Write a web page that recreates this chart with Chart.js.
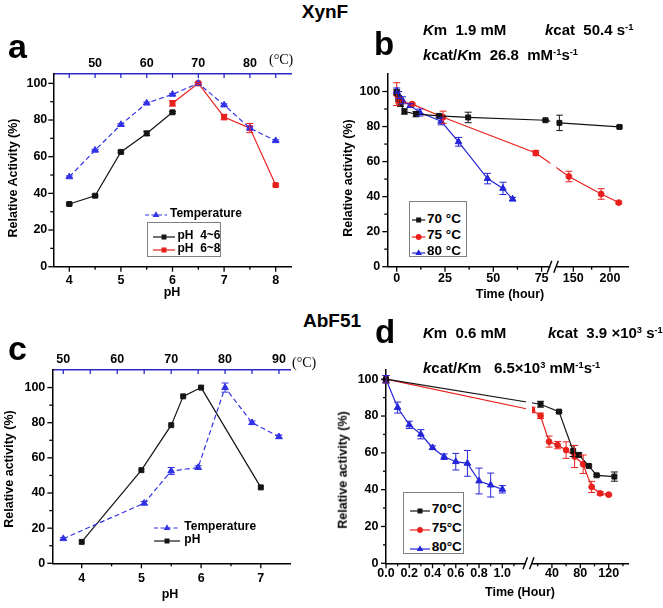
<!DOCTYPE html>
<html><head><meta charset="utf-8">
<script src="https://cdn.jsdelivr.net/npm/chart.js@4.4.1/dist/chart.umd.min.js"></script>
<style>
html,body{margin:0;padding:0;background:#fff}
body{position:relative;width:663px;height:608px;overflow:hidden;font-family:"Liberation Sans",Arial,sans-serif;font-weight:bold;color:#000}
canvas{position:absolute}
.t{position:absolute;white-space:nowrap;line-height:1}
.rot{position:absolute;white-space:nowrap;line-height:1;transform:translate(-50%,-50%) rotate(-90deg)}
sup{font-size:0.62em;vertical-align:0.5em;line-height:0}
.box{position:absolute;border:1px solid #808080;background:#fff;box-sizing:border-box}
</style></head><body>
<canvas id="cA" width="300" height="260" style="left:0px;top:50px"></canvas>
<canvas id="cB" width="300" height="260" style="left:335px;top:50px"></canvas>
<canvas id="cC" width="300" height="260" style="left:0px;top:345px"></canvas>
<canvas id="cD" width="300" height="260" style="left:335px;top:345px"></canvas>
<script>
// ---------------- DATA ----------------
// Panel a (XynF): pH and temperature profiles
const aTempC   = [45, 50, 55, 60, 65, 70, 75, 80, 85];
const aTempAct = [49, 63.5, 77.5, 89.2, 94, 100, 88.2, 75.6, 68.7];
const aTempErr = [0.5, 0.5, 0.5, 0.6, 0.5, 0.5, 0.6, 0.8, 0.5];
const aPhLow    = [4, 4.5, 5, 5.5, 6];
const aPhLowAct = [34.2, 38.7, 62.6, 72.7, 84.2];
const aPhLowErr = [0.5, 0.5, 0.6, 1.2, 0.5];
const aPhHigh    = [6, 6.5, 7, 7.5, 8];
const aPhHighAct = [89.1, 100, 81.6, 75.6, 44.5];
const aPhHighErr = [1.5, 0.5, 1.5, 2.5, 0.6];
const aPhTicks = [4, 5, 6, 7, 8];
const aTempTicks = [50, 60, 70, 80];
const aActTicks = [0, 20, 40, 60, 80, 100];

// Panel b (XynF): thermostability, time in hours
const b70T = [0, 1, 2, 4, 10, 22, 37, 77, 131, 213];
const b70A = [99.5, 96, 93, 88.6, 87.1, 86.1, 85.2, 83.6, 82.1, 79.8];
const b70E = [1.5, 1.5, 1.5, 1.5, 1.5, 1, 3, 0.6, 4.4, 0.6];
const b75T = [0, 1, 2, 8, 24, 72, 144, 188, 212];
const b75A = [98.5, 95, 94, 92.8, 85.3, 64.9, 51.5, 41.5, 36.6];
const b75E = [6.5, 1.5, 1, 0.6, 3.5, 1.5, 3, 3, 0.8];
const b80T = [0, 1, 3, 7, 12, 23, 32, 47, 55, 60];
const b80A = [100.5, 98, 95, 92, 88, 83, 71.3, 50.3, 44.7, 38.6];
const b80E = [1.5, 2, 2, 1, 2, 2, 2.5, 3, 3.5, 1];
const bTimeTicks = [0, 25, 50, 75, 150, 200];
const bActTicks = [0, 20, 40, 60, 80, 100];

// Panel c (AbF51): pH and temperature profiles
const cTempC   = [50, 65, 70, 75, 80, 85, 90];
const cTempAct = [14, 34.2, 52.5, 54.5, 100, 80, 72];
const cTempErr = [0.6, 1, 2, 1, 2.6, 1, 1];
const cPh    = [4, 5, 5.5, 5.7, 6, 7];
const cPhAct = [12.2, 53, 78.6, 95, 100, 43.2];
const cPhTicks = [4, 5, 6, 7];
const cTempTicks = [50, 60, 70, 80, 90];
const cActTicks = [0, 20, 40, 60, 80, 100];

// Panel d (AbF51): thermostability, time in hours
const d70T = [0, 24, 50, 70, 78, 92, 103, 128];
const d70A = [100, 86.4, 82.4, 61, 58.9, 52.9, 47.8, 47.1];
const d70E = [2, 1.6, 0.5, 3, 1, 0.6, 0.6, 2.5];
const d75T = [0, 12, 24, 36, 48, 60, 72, 84, 96, 108, 120];
const d75A = [100, 83.3, 80.1, 66.1, 64.2, 61.5, 58, 53.8, 41.5, 38, 37.3];
const d75E = [2, 1.5, 1.5, 3, 2, 4.5, 6, 5, 3, 1, 0.6];
const d80T = [0, 0.1, 0.2, 0.3, 0.4, 0.5, 0.6, 0.7, 0.8, 0.9, 1.0];
const d80A = [100, 84.6, 75.2, 70.1, 62.8, 57.9, 55.2, 54.3, 44.7, 42.5, 40.2];
const d80E = [2, 3, 2, 2.5, 1, 1.5, 4.5, 7, 7, 6.5, 2];
const dTimeTicks = [0, 0.2, 0.4, 0.6, 0.8, 1.0, 40, 80, 120];
const dTimeLabels = ['0.0', '0.2', '0.4', '0.6', '0.8', '1.0', '40', '80', '120'];
const dActTicks = [0, 20, 40, 60, 80, 100];

// ---------------- STYLE / HELPERS ----------------
const FONT = '"Liberation Sans", Arial, sans-serif';
const BLACK = '#141414', RED = '#e8201c', BLUE = '#2626d8', TBLUE = '#3232e6', AXBLUE = '#2a2ac4';
Chart.defaults.font.family = FONT;
Chart.defaults.color = '#000';

// broken-axis transforms (real hours -> axis position)
function bMap(t) { return t <= 100 ? t : 91.41 + (t - 150) * 0.3794; }
function dMap(t) { return t <= 1.2 ? t : 1.1823 + t * 0.006105; }

const EXTRAS = {};
const helperPlugin = {
  id: 'helper',
  afterDatasetsDraw(chart) {
    const ex = EXTRAS[chart.canvas.id] || {};
    const ctx = chart.ctx;
    chart.data.datasets.forEach((ds, di) => {
      if (!ds.errors) return;
      const meta = chart.getDatasetMeta(di);
      const ys = chart.scales[meta.yAxisID];
      ctx.save(); ctx.strokeStyle = ds.borderColor; ctx.lineWidth = 1; ctx.setLineDash([]);
      meta.data.forEach((pt, i) => {
        const e = ds.errors[i]; if (!e) return;
        const v = ds.data[i].y;
        const y1 = ys.getPixelForValue(v + e), y2 = ys.getPixelForValue(v - e);
        ctx.beginPath();
        ctx.moveTo(pt.x, y1); ctx.lineTo(pt.x, y2);
        ctx.moveTo(pt.x - 3.5, y1); ctx.lineTo(pt.x + 3.5, y1);
        ctx.moveTo(pt.x - 3.5, y2); ctx.lineTo(pt.x + 3.5, y2);
        ctx.stroke();
      });
      ctx.restore();
    });
    if (ex.brk !== undefined) {
      const xs = chart.scales.x, ca = chart.chartArea;
      const bx = xs.getPixelForValue(ex.brk);
      ctx.save();
      ctx.fillStyle = '#fff';
      ctx.fillRect(bx - 3, ca.top, 6, ca.bottom - ca.top + 2);
      ctx.strokeStyle = '#000'; ctx.lineWidth = 1.4;
      ctx.beginPath();
      ctx.moveTo(bx - 6, ca.bottom + 6); ctx.lineTo(bx - 1.5, ca.bottom - 6);
      ctx.moveTo(bx + 0.5, ca.bottom + 6); ctx.lineTo(bx + 5, ca.bottom - 6);
      ctx.stroke(); ctx.restore();
    }
  },
  afterDraw(chart) {
    const ex = EXTRAS[chart.canvas.id] || {};
    const ctx = chart.ctx;
    (ex.marks || []).forEach(m => {
      const s = chart.scales[m.scale];
      ctx.save(); ctx.strokeStyle = m.color || '#000'; ctx.lineWidth = 1.3;
      const draw = (vals, len) => vals.forEach(v => {
        const p = s.getPixelForValue(v);
        ctx.beginPath();
        if (m.scale === 'x') { ctx.moveTo(p, s.top); ctx.lineTo(p, s.top + len); }
        else if (m.scale === 'x2') { ctx.moveTo(p, s.bottom); ctx.lineTo(p, s.bottom + len); }
        else { ctx.moveTo(s.right, p); ctx.lineTo(s.right - len, p); }
        ctx.stroke();
      });
      draw(m.major || [], m.majorLen || 5);
      draw(m.minor || [], 3);
      ctx.restore();
    });
  }
};

function series(xs, ys, errs, color, style, extra) {
  const r = style === 'rect' ? 3.5 : (style === 'triangle' ? 3.8 : 2.9);
  return Object.assign({
    data: xs.map((x, i) => ({ x: x, y: ys[i] })),
    errors: errs,
    borderColor: color, backgroundColor: color,
    pointBackgroundColor: color, pointBorderColor: color, pointBorderWidth: 1,
    pointStyle: style, pointRadius: r, borderWidth: 1.2, tension: 0, clip: false
  }, extra || {});
}
const tickFont = { family: FONT, size: 12.5, weight: 'bold' };
function xScale(min, max, ticks, labels, height, pad) {
  return {
    type: 'linear', position: 'bottom', min: min, max: max,
    afterFit: s => { s.height = height; },
    afterBuildTicks: s => { s.ticks = ticks.map(v => ({ value: v })); },
    grid: { display: false, drawTicks: false },
    border: { display: true, color: '#000', width: 1.5 },
    ticks: { padding: pad, autoSkip: false, maxRotation: 0, color: '#000', font: tickFont,
      callback: (v, i) => labels[i] }
  };
}
function x2Scale(min, max, ticks, height, pad) {
  return {
    type: 'linear', axis: 'x', position: 'top', min: min, max: max,
    afterFit: s => { s.height = height; },
    afterBuildTicks: s => { s.ticks = ticks.map(v => ({ value: v })); },
    grid: { display: false, drawTicks: false },
    border: { display: true, color: AXBLUE, width: 1.6 },
    ticks: { padding: pad, autoSkip: false, maxRotation: 0, color: '#000', font: tickFont,
      callback: (v, i) => String(ticks[i]) }
  };
}
function yScale(max, ticks, width, pad) {
  return {
    type: 'linear', position: 'left', min: 0, max: max,
    afterFit: s => { s.width = width; },
    afterBuildTicks: s => { s.ticks = ticks.map(v => ({ value: v })); },
    grid: { display: false, drawTicks: false },
    border: { display: true, color: '#000', width: 1.5 },
    ticks: { padding: pad, autoSkip: false, color: '#000', font: tickFont,
      callback: (v, i) => String(ticks[i]) }
  };
}
function mk(id, datasets, scales, padding, extras) {
  EXTRAS[id] = extras;
  return new Chart(document.getElementById(id), {
    type: 'line',
    data: { datasets: datasets },
    options: {
      responsive: false, animation: false, events: [], devicePixelRatio: 1,
      layout: { padding: padding },
      plugins: { legend: { display: false }, tooltip: { enabled: false } },
      scales: scales
    },
    plugins: [helperPlugin]
  });
}
const yMinor = [10, 30, 50, 70, 90];

// ---------------- PANEL a ----------------
mk('cA', [
  series(aTempC, aTempAct, aTempErr, TBLUE, 'triangle', { xAxisID: 'x2', borderDash: [5, 3] }),
  series(aPhLow, aPhLowAct, aPhLowErr, BLACK, 'rect'),
  series(aPhHigh, aPhHighAct, aPhHighErr, RED, 'rect')
], {
  x: xScale(3.69, 8.31, aPhTicks, aPhTicks.map(String), 43.3, 6.6),
  x2: x2Scale(41.9, 88.1, aTempTicks, 24, 3.3),
  y: yScale(105.1, aActTicks, 53.3, 6)
}, { left: 0, top: 0, right: 8.3, bottom: 0 }, {
  marks: [
    { scale: 'x', major: aPhTicks, minor: [4.5, 5.5, 6.5, 7.5] },
    { scale: 'y', major: aActTicks, minor: yMinor },
    { scale: 'x2', major: [45, 50, 55, 60, 65, 70, 75, 80, 85], color: AXBLUE, majorLen: 4 }
  ]
});

// ---------------- PANEL b ----------------
mk('cB', [
  series(b70T.map(bMap), b70A, b70E, BLACK, 'rect'),
  series(b75T.map(bMap), b75A, b75E, RED, 'circle'),
  series(b80T.map(bMap), b80A, b80E, BLUE, 'triangle')
], {
  x: xScale(-4.865, 119.88, bTimeTicks.map(bMap), bTimeTicks.map(String), 43.3, 4.8),
  y: yScale(110, bActTicks, 52.3, 7)
}, { left: 0, top: 24, right: 6.7, bottom: 0 }, {
  brk: 81.05,
  marks: [
    { scale: 'x', major: bTimeTicks.map(bMap), minor: [12.5, 37.5, 62.5, 175].map(bMap) },
    { scale: 'y', major: bActTicks, minor: yMinor }
  ]
});

// ---------------- PANEL c ----------------
mk('cC', [
  series(cTempC, cTempAct, cTempErr, TBLUE, 'triangle', { xAxisID: 'x2', borderDash: [5, 3] }),
  series(cPh, cPhAct, null, BLACK, 'rect')
], {
  x: xScale(3.5075, 7.489, cPhTicks, cPhTicks.map(String), 41.7, 8.2),
  x2: x2Scale(47.96, 92.04, cTempTicks, 25, 3.1),
  y: yScale(110, cActTicks, 52.3, 7)
}, { left: 0, top: 0, right: 10, bottom: 0 }, {
  marks: [
    { scale: 'x', major: cPhTicks, minor: [4.5, 5.5, 6.5] },
    { scale: 'y', major: cActTicks, minor: yMinor },
    { scale: 'x2', major: [50, 55, 60, 65, 70, 75, 80, 85, 90], color: AXBLUE, majorLen: 4 }
  ]
});

// ---------------- PANEL d ----------------
mk('cD', [
  series(d70T.map(dMap), d70A, d70E, BLACK, 'rect'),
  series(d75T.map(dMap), d75A, d75E, RED, 'circle'),
  series(d80T.map(dMap), d80A, d80E, BLUE, 'triangle')
], {
  x: xScale(0, 2.0808, dTimeTicks.map(dMap), dTimeLabels, 41.7, 3.2),
  y: yScale(105, dActTicks, 51, 7.5)
}, { left: 0, top: 25, right: 7, bottom: 0 }, {
  brk: 1.2296,
  marks: [
    { scale: 'x', major: dTimeTicks.map(dMap), minor: [0.1, 0.3, 0.5, 0.7, 0.9, 1.1, 20, 60, 100, 140].map(dMap) },
    { scale: 'y', major: dActTicks, minor: yMinor }
  ]
});

// ---------------- TEXT / LEGENDS (HTML) ----------------
function txt(html, left, base, size, extra, center) {
  const d = document.createElement('div'); d.className = 't';
  d.style.left = left + 'px'; d.style.top = (base - 0.8465 * size) + 'px'; d.style.fontSize = size + 'px';
  if (center) d.style.transform = 'translateX(-50%)';
  if (extra) d.style.cssText += extra;
  d.innerHTML = html; document.body.appendChild(d);
}
function rot(html, cx, cy, size) {
  const d = document.createElement('div'); d.className = 'rot';
  d.style.left = cx + 'px'; d.style.top = cy + 'px'; d.style.fontSize = size + 'px';
  d.innerHTML = html; document.body.appendChild(d);
}
function box(l, t, w, h) {
  const d = document.createElement('div'); d.className = 'box';
  d.style.left = l + 'px'; d.style.top = t + 'px'; d.style.width = w + 'px'; d.style.height = h + 'px';
  document.body.appendChild(d);
}
function marker(style, color, cx, cy) {
  if (style === 'rect') return `<rect x="${cx - 2.5}" y="${cy - 2.5}" width="5" height="5" fill="${color}"/>`;
  if (style === 'circle') return `<circle cx="${cx}" cy="${cy}" r="2.9" fill="${color}"/>`;
  return `<polygon points="${cx},${cy - 3.8} ${cx + 3.3},${cy + 1.9} ${cx - 3.3},${cy + 1.9}" fill="${color}"/>`;
}
function legendRow(x1, x2, y, color, style, dashed, label, textLeft, fs) {
  const w = x2 - x1;
  const s = document.createElement('div');
  s.style.cssText = `position:absolute;left:${x1}px;top:${y - 6}px;width:${w}px;height:12px`;
  s.innerHTML = `<svg width="${w}" height="12" style="overflow:visible"><line x1="0" y1="6" x2="${w}" y2="6" stroke="${color}" stroke-width="1.2" ${dashed ? 'stroke-dasharray="4,2.5"' : ''}/>${marker(style, color, w / 2, 6)}</svg>`;
  document.body.appendChild(s);
  txt(label, textLeft, y + 0.36 * fs, fs);
}

// titles
txt('XynF', 325, 18, 19, '', true);
txt('AbF51', 332, 327, 19, '', true);
txt('a', 8, 58, 34); txt('b', 374, 55, 33); txt('c', 8, 360, 34); txt('d', 375, 343, 33);
txt('(°C)', 269, 64.5, 14, 'font-family:"Liberation Serif",serif;font-weight:normal');
txt('(°C)', 292, 368, 14, 'font-family:"Liberation Serif",serif;font-weight:normal');

// kinetic annotations
txt('<i>K</i>m&nbsp;&nbsp;1.9&nbsp;mM', 423, 35, 15);
txt('<i>k</i>cat&nbsp;&nbsp;50.4&nbsp;s<sup>-1</sup>', 545, 35, 15);
txt('<i>k</i>cat/<i>K</i>m&nbsp;&nbsp;26.8&nbsp;&nbsp;mM<sup>-1</sup>s<sup>-1</sup>', 423, 60, 15);
txt('<i>K</i>m&nbsp;&nbsp;0.6&nbsp;mM', 423, 338, 15);
txt('<i>k</i>cat&nbsp;&nbsp;3.9&nbsp;×10<sup>3</sup>&nbsp;s<sup>-1</sup>', 548, 338, 15);
txt('<i>k</i>cat/<i>K</i>m&nbsp;&nbsp;&nbsp;6.5×10<sup>3</sup>&nbsp;mM<sup>-1</sup>s<sup>-1</sup>', 423, 373, 15);

// axis titles
rot('Relative Activity (%)', 13.3, 177.5, 12.5);
rot('Relative activity (%)', 348, 177.5, 12.5);
rot('Relative activity (%)', 8.5, 469, 12.5);
rot('Relative activity (%)', 343.3, 470, 12.5);
txt('pH', 172, 296.7, 12.5, '', true);
txt('Time (hour)', 510, 298.3, 12.5, '', true);
txt('pH', 170, 598.5, 12.5, '', true);
txt('Time (Hour)', 520, 596.5, 12.5, '', true);

// legend a
legendRow(145, 167, 212.7, TBLUE, 'triangle', true, 'Temperature', 170, 12);
box(146.7, 221.7, 74.3, 35);
legendRow(153, 175, 235, BLACK, 'rect', false, 'pH&nbsp;&nbsp;4~6', 177.5, 12);
legendRow(153, 175, 248.3, RED, 'rect', false, 'pH&nbsp;&nbsp;6~8', 177.5, 12);
// legend b
box(409, 201, 58.3, 56.3);
legendRow(411.7, 425, 218.3, BLACK, 'rect', false, '70 °C', 427, 13.5);
legendRow(411.7, 425, 235, RED, 'circle', false, '75 °C', 427, 13.5);
legendRow(411.7, 425, 250.7, BLUE, 'triangle', false, '80 °C', 427, 13.5);
// legend c
legendRow(154, 180, 525.7, TBLUE, 'triangle', true, 'Temperature', 184.3, 12);
legendRow(154, 180, 539, BLACK, 'rect', false, 'pH', 184.3, 12);
// legend d
box(402.7, 491.5, 61.5, 62);
legendRow(410, 430, 509, BLACK, 'rect', false, '70°C', 431.7, 13.5);
legendRow(410, 430, 528, RED, 'circle', false, '75°C', 431.7, 13.5);
legendRow(410, 430, 547, BLUE, 'triangle', false, '80°C', 431.7, 13.5);
</script>
</body></html>
